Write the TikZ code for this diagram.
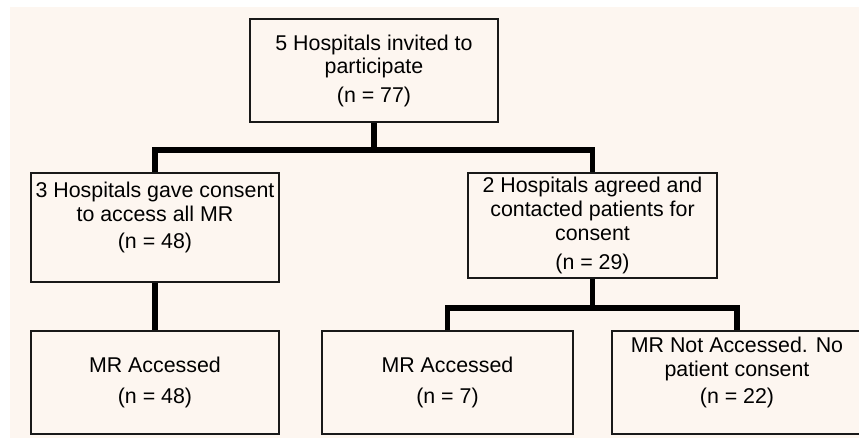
\documentclass[tikz,border=0pt]{standalone}
\usepackage{fontspec}
\setmainfont{Liberation Sans}
\definecolor{paper}{RGB}{253,246,240}
\tikzset{
    box/.style={draw=black!90, line width=1pt, fill=paper, align=center, inner sep=0pt,
        minimum width=6.2cm, minimum height=2.575cm, font=\fontsize{15.2}{17}\selectfont},
    bar/.style={line width=3.6pt, line join=miter},
}
\begin{document}
\begin{tikzpicture}
        % page
        \clip (0, 0) rectangle (21.475, 10.975);
        \fill[paper] (0.25, 0.025) rectangle (21.475, 10.8);
        % nodes
        \node[box] (n1) at (9.35, 9.2125) {5 Hospitals invited to\\ participate\\[3pt] (n = 77)};
            \node[box, minimum height=2.725cm] (n1-1) at (3.875, 5.2875) {3 Hospitals gave consent\\ to access all MR\\[2pt] (n = 48)\\ \mbox{}};
                \node[box] (n1-1-1) at (3.875, 1.4125) {MR Accessed\\[5pt] (n = 48)};
            \node[box, minimum width=6.225cm, minimum height=2.625cm] (n1-2) at (14.8125, 5.3375) {2 Hospitals agreed and\\ contacted patients for\\ consent\\[4pt] (n = 29)};
                \node[box, minimum width=6.275cm] (n1-2-1) at (11.1875, 1.4125) {MR Accessed\\[5pt] (n = 7)};
                \node[box, minimum width=6.25cm] (n1-2-2) at (18.425, 1.4125) {MR Not Accessed. No\\ patient consent\\[2pt] (n = 22)\\ \mbox{}};
        % junctions
        \coordinate (j1) at (9.35, 7.225);
        \coordinate (j2) at (14.8125, 3.275);
        % lines
        \draw[bar] (n1)     -- (j1);
        \draw[bar] (n1-1)   |- (j1) -| (n1-2);
        \draw[bar] (n1-1)   -- (n1-1-1);
        \draw[bar] (n1-2)   -- (j2);
        \draw[bar] (n1-2-1) |- (j2) -| (n1-2-2);
\end{tikzpicture}
\end{document}
